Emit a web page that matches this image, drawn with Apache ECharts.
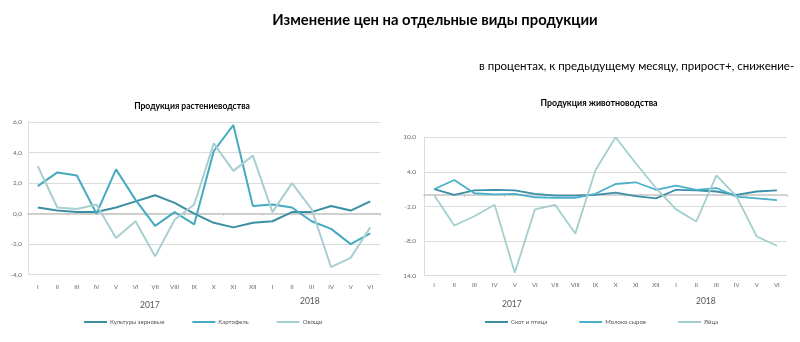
<!DOCTYPE html>
<html><head><meta charset="utf-8">
<script src="https://cdn.jsdelivr.net/npm/echarts@6/dist/echarts.min.js"></script>
<style>html,body{margin:0;padding:0;background:#fff}#c{width:800px;height:342px}</style>
</head><body><div id="c"></div>
<script>
const months = ['I','II','III','IV','V','VI','VII','VIII','IX','X','XI','XII','I','II','III','IV','V','VI'];
const years = ['2017','2018'];
const grain  = [0.4,0.2,0.1,0.1,0.4,0.8,1.2,0.7,0.0,-0.6,-0.9,-0.6,-0.5,0.1,0.1,0.5,0.2,0.8];
const potato = [1.8,2.7,2.5,0.0,2.9,0.9,-0.8,0.1,-0.7,4.1,5.8,0.5,0.6,0.4,-0.5,-1.0,-2.0,-1.3];
const veg    = [3.1,0.4,0.3,0.6,-1.6,-0.5,-2.8,-0.4,0.6,4.6,2.8,3.8,0.1,2.0,0.3,-3.5,-2.9,-0.9];
const cattle = [1.0,0.0,0.8,0.9,0.8,0.2,-0.1,-0.1,0.0,0.4,-0.2,-0.6,0.9,0.8,0.6,0.0,0.6,0.8];
const milk   = [1.0,2.6,0.3,0.1,0.2,-0.4,-0.5,-0.5,0.2,1.9,2.2,0.9,1.6,0.9,1.2,-0.3,-0.6,-0.9];
const eggs   = [0.0,-5.3,-3.7,-1.7,-13.5,-2.5,-1.7,-6.7,4.3,10.0,5.5,1.2,-2.5,-4.6,3.4,-0.3,-7.2,-8.8];
const rightTicks = [-14,-8,-2,4,10];
const names = ['Культуры зерновые','Картофель','Овощи','Скот и птица','Молоко сырое','Яйца'];

const C1 = '#3a8fa2', C2 = '#46aac0', C3 = '#a9cfd1';
const gridCol = '#dcdcdc', labCol = '#666';
const FONT = 'Lato, "Liberation Sans", sans-serif';

function fmtL(v){ const n = Number(v); const s = Math.abs(n).toFixed(1).replace('.',',');
  return n < 0 ? '{m|-}{n|' + s + '}' : s; }
function fmtR(v){ const n = Number(v); const s = Math.abs(n).toFixed(1);
  if (n <= -13.9) return s;
  return n < 0 ? '{m|-}{n|' + s + '}' : s; }
const richLab = (w) => ({m:{fontSize:6.5, color:labCol, width:w, fontFamily:FONT}, n:{fontSize:6.5, color:labCol, fontFamily:FONT}});

const chart = echarts.init(document.getElementById('c'), null, {renderer:'canvas'});
function zeroAxis(g){ return {type:'category', gridIndex:g, data:months, boundaryGap:true,
  axisLine:{onZero:true, lineStyle:{color:'#c4c4c4', width:1.5}},
  axisTick:{show:true, length:2, lineStyle:{color:'#c4c4c4'}},
  axisLabel:{show:false}, splitLine:{show:false}}; }
function bottomAxis(g, margin){ return {type:'category', gridIndex:g, data:months, boundaryGap:true, position:'bottom',
  axisLine:{show:false, onZero:false}, axisTick:{show:false},
  axisLabel:{show:true, interval:0, fontSize:6, color:labCol, margin:margin, fontFamily:FONT}}; }
function line(name, data, color, xi, yi, w){ return {name, type:'line', data, xAxisIndex:xi, yAxisIndex:yi,
  symbol:'none', lineStyle:{color, width:w}, itemStyle:{color}, silent:true, animation:false}; }

chart.setOption({
  animation:false,
  textStyle:{fontFamily:FONT},
  title:[
    {text:'Изменение цен на отдельные виды продукции', left:430, top:8, textAlign:'center',
     textStyle:{fontSize:14.8, fontWeight:'bold', color:'#000', fontFamily:FONT}},
    {text:'в процентах, к предыдущему месяцу, прирост+, снижение-', left:474, top:55,
     textStyle:{fontSize:11.5, fontWeight:'normal', color:'#000', fontFamily:FONT}},
    {text:'Продукция растениеводства', left:187, top:97, textAlign:'center',
     textStyle:{fontSize:8.6, fontWeight:'bold', color:'#000', fontFamily:FONT}},
    {text:'Продукция животноводства', left:594, top:94, textAlign:'center',
     textStyle:{fontSize:8.8, fontWeight:'bold', color:'#000', fontFamily:FONT}}
  ],
  graphic:[
    {type:'text', left:140, top:301, style:{text:years[0], fontSize:8.5, fill:'#555', fontFamily:FONT}},
    {type:'text', left:300, top:297, style:{text:years[1], fontSize:8.5, fill:'#555', fontFamily:FONT}},
    {type:'text', left:502, top:300, style:{text:years[0], fontSize:8.5, fill:'#555', fontFamily:FONT}},
    {type:'text', left:696, top:297, style:{text:years[1], fontSize:8.5, fill:'#555', fontFamily:FONT}}
  ],
  legend:[
    {data:names.slice(0,3), left:79, top:314, itemWidth:23, itemHeight:2, itemGap:28, icon:'rect',
     textStyle:{fontSize:6, color:'#555', fontFamily:FONT, padding:[0,0,0,-2]}},
    {data:names.slice(3), left:480, top:314, itemWidth:23, itemHeight:2, itemGap:32, icon:'rect',
     textStyle:{fontSize:6, color:'#555', fontFamily:FONT, padding:[0,0,0,-2]}}
  ],
  grid:[
    {left:28, top:122, width:352, height:152.7},
    {left:424, top:137.3, width:363, height:138.4}
  ],
  xAxis:[ zeroAxis(0), bottomAxis(0, 9), zeroAxis(1), bottomAxis(1, 6) ],
  yAxis:[
    {type:'value', gridIndex:0, min:-4, max:6, interval:2,
     axisLine:{show:true, lineStyle:{color:gridCol}}, axisTick:{show:false},
     axisLabel:{fontSize:6.5, color:labCol, margin:6, formatter:fmtL, fontFamily:FONT, rich:richLab(7)},
     splitLine:{lineStyle:{color:gridCol, width:1}}},
    {type:'value', gridIndex:1, min:-14, max:10,
     axisLine:{show:true, lineStyle:{color:gridCol}},
     axisTick:{show:false, customValues:rightTicks},
     axisLabel:{fontSize:6.5, color:labCol, margin:8, formatter:fmtR, fontFamily:FONT, customValues:rightTicks, rich:richLab(9)},
     splitLine:{lineStyle:{color:gridCol, width:1}}}
  ],
  series:[
    line(names[0], grain, C1, 0, 0, 2),
    line(names[1], potato, C2, 0, 0, 2),
    line(names[2], veg, C3, 0, 0, 2),
    line(names[3], cattle, '#3a8ea6', 2, 1, 1.8),
    line(names[4], milk, '#4ab0c9', 2, 1, 1.8),
    line(names[5], eggs, '#a3cfce', 2, 1, 1.8)
  ]
});
</script></body></html>
